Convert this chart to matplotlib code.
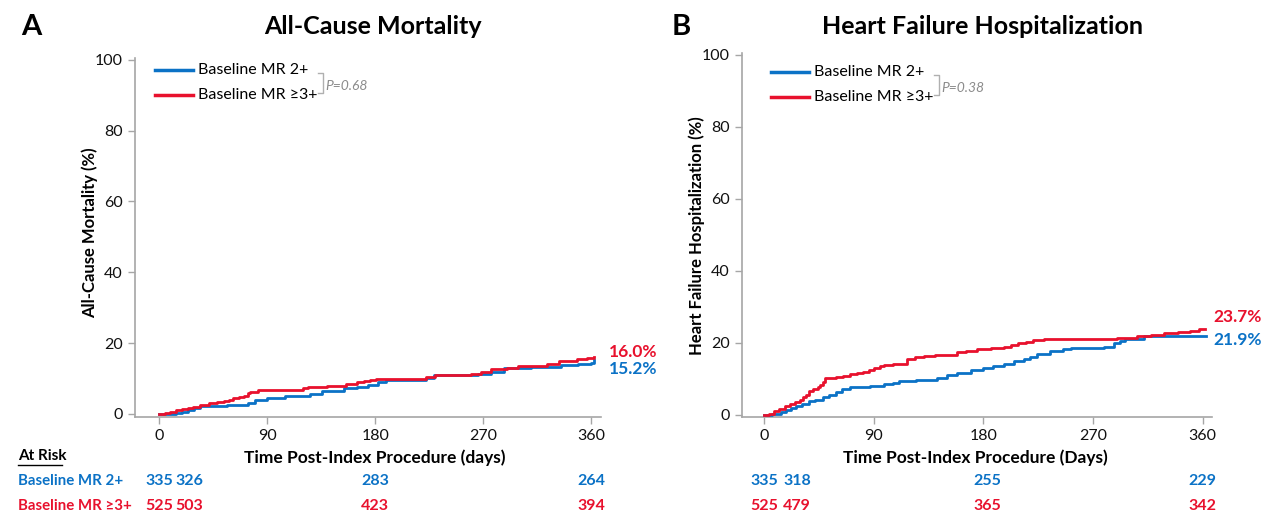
import numpy as np
import matplotlib
matplotlib.use("Agg")
import matplotlib.pyplot as plt
from matplotlib.lines import Line2D

plt.rcParams['font.family'] = ['Lato', 'DejaVu Sans']

# ---- data ----
groups = ["Baseline MR 2+", "Baseline MR \u22653+"]

acm_days_2 = [0, 8, 14, 19, 24, 29, 34, 57, 74, 80, 90, 105, 115, 126, 136, 154, 165, 174, 182, 189,
              216, 222, 229, 260, 266, 276, 287, 310, 335, 349, 360, 362]
acm_pct_2 = [0, 0.1, 0.3, 0.6, 1.1, 1.7, 2.3, 2.5, 3.0, 3.9, 4.4, 5.0, 5.2, 5.6, 6.5, 7.2, 7.7, 8.3, 9.0, 9.7,
             9.7, 10.3, 10.9, 10.9, 11.3, 11.9, 12.9, 13.2, 13.7, 14.1, 14.5, 15.2]
acm_days_3 = [0, 5, 9, 14, 19, 24, 28, 34, 42, 48, 54, 58, 62, 67, 71, 74, 76, 82, 103, 120, 124, 140,
              156, 165, 171, 176, 181, 214, 222, 230, 260, 268, 276, 290, 299, 323, 333, 348, 356, 362]
acm_pct_3 = [0, 0.4, 0.7, 1.0, 1.3, 1.7, 2.0, 2.5, 3.0, 3.3, 3.6, 4.0, 4.4, 4.7, 5.0, 5.8, 6.3, 6.7, 6.9, 7.2,
             7.6, 7.9, 8.6, 8.9, 9.2, 9.6, 10.0, 10.0, 10.5, 10.9, 11.4, 11.9, 12.6, 13.0, 13.5, 14.1, 15.1,
             15.6, 15.8, 16.0]

hf_days_2 = [0, 6, 10, 14, 18, 22, 26, 31, 37, 42, 48, 53, 59, 64, 70, 87, 98, 106, 111, 125, 142, 150,
             158, 170, 180, 188, 197, 205, 213, 218, 224, 235, 245, 252, 279, 287, 292, 296, 312, 363]
hf_pct_2 = [0, 0.1, 0.3, 0.8, 1.4, 1.8, 2.3, 2.9, 3.7, 4.2, 4.9, 5.5, 6.3, 7.0, 7.7, 8.1, 8.4, 8.7, 9.3, 9.6,
            10.2, 10.9, 11.6, 12.3, 13.0, 13.6, 14.2, 14.8, 15.4, 16.1, 16.9, 17.7, 18.2, 18.6, 18.9, 19.8,
            20.5, 21.1, 21.9, 21.9]
hf_days_3 = [0, 4, 8, 12, 17, 21, 25, 29, 32, 34, 37, 40, 44, 46, 48, 50, 59, 65, 70, 76, 81, 86, 90, 95,
             98, 106, 114, 117, 124, 131, 140, 153, 158, 166, 175, 186, 197, 203, 208, 215, 221, 230, 271,
             290, 306, 318, 328, 340, 350, 357, 362]
hf_pct_3 = [0, 0.3, 0.9, 1.6, 2.4, 3.1, 3.6, 4.2, 5.0, 5.6, 6.5, 7.1, 7.6, 8.2, 9.0, 10.1, 10.5, 10.8, 11.2,
            11.5, 11.8, 12.4, 13.0, 13.4, 13.7, 14.0, 14.2, 15.6, 15.9, 16.3, 16.5, 16.6, 17.4, 17.8, 18.3,
            18.6, 18.9, 19.4, 19.8, 20.2, 20.7, 20.9, 21.1, 21.4, 21.9, 22.2, 22.6, 23.0, 23.3, 23.7, 23.7]

acm_final = ["15.2%", "16.0%"]
hf_final = ["21.9%", "23.7%"]
acm_pvalue = "P=0.68"
hf_pvalue = "P=0.38"

acm_risk_2 = [335, 326, 283, 264]
acm_risk_3 = [525, 503, 423, 394]
hf_risk_2 = [335, 318, 255, 229]
hf_risk_3 = [525, 479, 365, 342]

xticks = [0, 90, 180, 270, 360]
yticks = [0, 20, 40, 60, 80, 100]

# ---- style ----
BLUE = "#0B72C6"
RED = "#E8112D"
GRAY = "#A6A6A6"
W, H = 1268, 513

def fx(x):
    return x / W

def fy(y):
    return 1 - y / H

fig = plt.figure(figsize=(W / 100, H / 100), dpi=100)


def panel(rect, xlim, ylim, days2, pct2, days3, pct3, finals, pval, title, letter, ylab, xlab,
          risk2, risk3, risk_days, leg_x, leg_y, fin_y):
    ax = fig.add_axes(rect)
    ax.step(days2, pct2, where="post", color=BLUE, lw=2.0, zorder=3)
    ax.step(days3, pct3, where="post", color=RED, lw=2.0, zorder=3)
    ax.set_xlim(*xlim)
    ax.set_ylim(*ylim)
    ax.set_xticks(xticks)
    ax.set_yticks(yticks)
    for s in ["top", "right"]:
        ax.spines[s].set_visible(False)
    for s in ["left", "bottom"]:
        ax.spines[s].set_color(GRAY)
        ax.spines[s].set_linewidth(1.2)
    ax.tick_params(colors=GRAY, length=5, width=1.0, labelsize=11.5, labelcolor="#111111", pad=4)

    # titles / labels
    x0 = rect[0]
    fig.text(x0 + rect[2] / 2 + 0.004, fy(27), title, ha="center", va="center",
             fontsize=18, fontweight="bold")
    fig.text(fx(letter[0]), fy(27), letter[1], ha="center", va="center", fontsize=21, fontweight="bold")
    fig.text(fx(ylab[0]), fy(ylab[1]), ylab[2], ha="center", va="center", rotation=90,
             fontsize=12, fontweight="bold")
    fig.text(fx(xlab[0]), fy(458), xlab[1], ha="center", va="center", fontsize=12.5, fontweight="bold")

    # legend with p-value bracket
    for i, (lab, col) in enumerate(zip(groups, [BLUE, RED])):
        yy = fy(leg_y + 25 * i)
        fig.add_artist(Line2D([fx(leg_x), fx(leg_x + 38)], [yy, yy], color=col, lw=2.5))
        fig.text(fx(leg_x + 43), yy, lab, ha="left", va="center", fontsize=11.5)
    bx = leg_x + 163
    fig.add_artist(Line2D([fx(bx), fx(bx + 5), fx(bx + 5), fx(bx)],
                          [fy(leg_y + 3), fy(leg_y + 3), fy(leg_y + 23), fy(leg_y + 23)],
                          color="#B0B0B0", lw=1.0))
    fig.text(fx(bx + 7), fy(leg_y + 16), pval, ha="left", va="center", fontsize=10,
             style="italic", color="#8C8C8C")

    # final values
    fig.text(fx(fin_y[0]), fy(fin_y[1]), finals[1], ha="left", va="center", fontsize=12.5,
             fontweight="bold", color=RED)
    fig.text(fx(fin_y[0]), fy(fin_y[2]), finals[0], ha="left", va="center", fontsize=12.5,
             fontweight="bold", color=BLUE)

    # at-risk numbers under the axis days
    tr = matplotlib.transforms.blended_transform_factory(ax.transData, fig.transFigure)
    for d, n2, n3 in zip(risk_days, risk2, risk3):
        ax.text(d, fy(481), str(n2), transform=tr, ha="center", va="center", fontsize=11.5,
                fontweight="bold", color=BLUE, clip_on=False)
        ax.text(d, fy(506), str(n3), transform=tr, ha="center", va="center", fontsize=11.5,
                fontweight="bold", color=RED, clip_on=False)
    return ax


# left panel: y-axis at px 135, x-axis at px 417
panel([fx(135), fy(417), fx(601) - fx(135), fy(58) - fy(417)], (-20, 368), (-0.85, 100.5),
      acm_days_2, acm_pct_2, acm_days_3, acm_pct_3, acm_final, acm_pvalue,
      "All-Cause Mortality", (31, "A"), (90, 233, "All-Cause Mortality (%)"),
      (375, "Time Post-Index Procedure (days)"), acm_risk_2, acm_risk_3, [0, 25, 180, 360],
      155, 70, (609, 352, 369))

# right panel: y-axis at px 742, x-axis at px 417
panel([fx(742), fy(417), fx(1212) - fx(742), fy(53) - fy(417)], (-18.3, 367.7), (-0.65, 100.5),
      hf_days_2, hf_pct_2, hf_days_3, hf_pct_3, hf_final, hf_pvalue,
      "Heart Failure Hospitalization", (681, "B"), (697, 236, "Heart Failure Hospitalization (%)"),
      (975, "Time Post-Index Procedure (Days)"), hf_risk_2, hf_risk_3, [0, 27, 183, 360],
      771, 72, (1213, 317, 340))

# at-risk row headers
fig.text(fx(18), fy(456), "At Risk", ha="left", va="center", fontsize=11, fontweight="bold")
fig.add_artist(Line2D([fx(18), fx(62)], [fy(465), fy(465)], color="black", lw=1.0))
fig.text(fx(18), fy(481), groups[0], ha="left", va="center", fontsize=10.8, fontweight="bold", color=BLUE)
fig.text(fx(18), fy(506), groups[1], ha="left", va="center", fontsize=10.8, fontweight="bold", color=RED)

fig.savefig("out.png", dpi=100)
